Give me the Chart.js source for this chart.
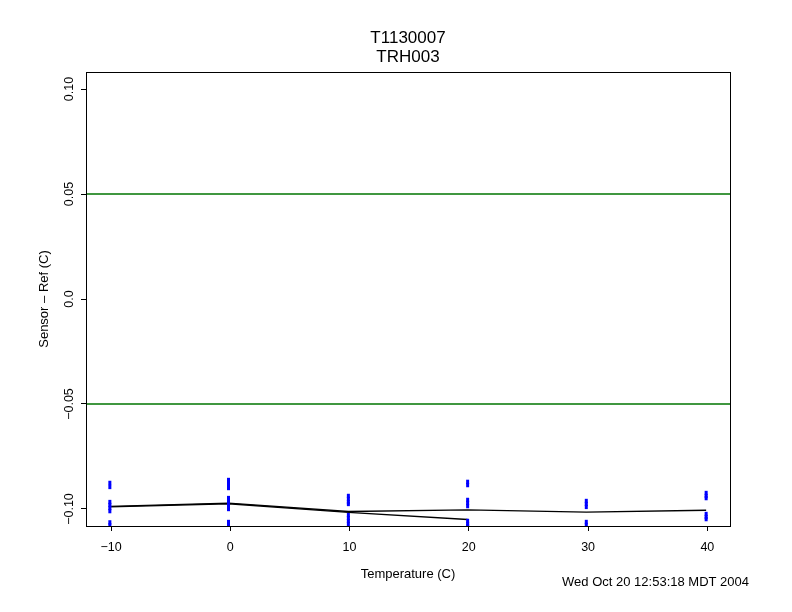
<!DOCTYPE html>
<html>
<head>
<meta charset="utf-8">
<script src="https://cdn.jsdelivr.net/npm/chart.js@4.4.0/dist/chart.umd.min.js"></script>
<style>
body{margin:0;background:#fff}
#wrap{width:792px;height:612px}
</style>
</head>
<body>
<div id="wrap"><canvas id="chart" width="792" height="612"></canvas></div>
<script>
// chamber temperatures (C) and sensor - ref readings at each one
const temps = [-10.1, -0.15, 9.9, 19.9, 29.85, 39.9];
const readings = [
  [-0.0876, -0.0895, -0.0967, -0.0981, -0.0995, -0.1010, -0.1064, -0.1078],
  [-0.0862, -0.0876, -0.0890, -0.0900, -0.0948, -0.0962, -0.0976, -0.0990, -0.1000, -0.1062, -0.1076],
  [-0.0938, -0.0952, -0.0967, -0.0976, -0.1029, -0.1043, -0.1057, -0.1071],
  [-0.0871, -0.0886, -0.0957, -0.0971, -0.0986, -0.1057, -0.1071, -0.1080],
  [-0.0962, -0.0976, -0.0990, -0.1062, -0.1076],
  [-0.0924, -0.0938, -0.0948, -0.1024, -0.1038, -0.1048]
];
// the two black mean lines
const meanAX = [-10.1, -0.15, 9.9, 19.9];
const meanAY = [-0.0990, -0.0975, -0.1016, -0.1050];
const meanBX = [-10.1, -0.15, 9.9, 19.9, 29.85, 39.9];
const meanBY = [-0.0988, -0.0972, -0.1012, -0.1004, -0.1015, -0.1006];
const limits = [0.05, -0.05];
const xRange = [-12.1, 41.9];
const yRange = [-0.1081, 0.1081];
const xTicks = [-10, 0, 10, 20, 30, 40];
const xTickLabels = ['\u221210', '0', '10', '20', '30', '40'];
const yTicks = [-0.10, -0.05, 0, 0.05, 0.10];
const yTickLabels = ['\u22120.10', '\u22120.05', '0.0', '0.05', '0.10'];
const titleLines = ['T1130007', 'TRH003'];

const points = [];
temps.forEach((t, i) => readings[i].forEach(v => points.push({x: t, y: v})));
const toXY = (xs, ys) => xs.map((x, i) => ({x: x, y: ys[i]}));

const font = 'Liberation Sans, Arial, Helvetica, sans-serif';

const datasets = limits.map(l => ({
  type: 'line',
  data: [{x: xRange[0], y: l}, {x: xRange[1], y: l}],
  borderColor: '#007400', borderWidth: 1.3, pointRadius: 0, order: 3
}));
datasets.push({type: 'line', data: toXY(meanAX, meanAY), borderColor: '#000', borderWidth: 1.3, pointRadius: 0, order: 2});
datasets.push({type: 'line', data: toXY(meanBX, meanBY), borderColor: '#000', borderWidth: 1.3, pointRadius: 0, order: 2});
datasets.push({
  type: 'scatter', data: points,
  pointStyle: 'line', rotation: 90, pointRadius: 2.2,
  borderColor: '#0000ff', borderWidth: 3, order: 1
});

// frame, titles, rotated y labels and the date stamp
const decor = {
  id: 'decor',
  afterDraw(chart) {
    const a = chart.chartArea, ctx = chart.ctx, ys = chart.scales.y;
    ctx.save();
    ctx.strokeStyle = '#000';
    ctx.lineWidth = 1;
    ctx.strokeRect(Math.round(a.left) + 0.5, Math.round(a.top) + 0.5,
      Math.round(a.right - a.left), Math.round(a.bottom - a.top));
    ctx.fillStyle = '#000';
    ctx.textAlign = 'center';
    ctx.textBaseline = 'middle';
    const cx = (a.left + a.right) / 2;
    ctx.font = '17px ' + font;
    ctx.fillText(titleLines[0], cx, 38);
    ctx.fillText(titleLines[1], cx, 57);

    ctx.font = '12.5px ' + font;
    yTicks.forEach((v, i) => {
      ctx.save();
      ctx.translate(70, ys.getPixelForValue(v));
      ctx.rotate(-Math.PI / 2);
      ctx.fillText(yTickLabels[i], 0, 0);
      ctx.restore();
    });
    ctx.font = '13px ' + font;
    ctx.save();
    ctx.translate(44, (a.top + a.bottom) / 2);
    ctx.rotate(-Math.PI / 2);
    ctx.fillText('Sensor \u2013 Ref (C)', 0, 0);
    ctx.restore();

    ctx.textAlign = 'right';
    ctx.fillText('Wed Oct 20 12:53:18 MDT 2004', 749, 582);
    ctx.restore();
  }
};

new Chart(document.getElementById('chart').getContext('2d'), {
  data: {datasets: datasets},
  options: {
    responsive: false,
    animation: false,
    layout: {padding: {left: 0, right: 62, top: 72, bottom: 26}},
    plugins: {
      legend: {display: false},
      tooltip: {enabled: false},
      title: {display: false}
    },
    scales: {
      x: {
        type: 'linear', min: xRange[0], max: xRange[1],
        afterBuildTicks: s => { s.ticks = xTicks.map(v => ({value: v})); },
        afterFit: s => { s.height = 60; },
        grid: {display: true, drawOnChartArea: false, color: '#000', tickLength: 5},
        border: {display: true, color: '#000'},
        ticks: {
          color: '#000', font: {family: font, size: 12.5}, padding: 9,
          maxRotation: 0, callback: (v, i) => xTickLabels[i]
        },
        title: {display: true, text: 'Temperature (C)', color: '#000',
          font: {family: font, size: 13}, padding: {top: 4}}
      },
      y: {
        type: 'linear', min: yRange[0], max: yRange[1],
        afterBuildTicks: s => { s.ticks = yTicks.map(v => ({value: v})); },
        afterFit: s => { s.width = 86; },
        grid: {display: true, drawOnChartArea: false, color: '#000', tickLength: 5},
        border: {display: true, color: '#000'},
        ticks: {display: false}
      }
    }
  },
  plugins: [decor]
});
</script>
</body>
</html>
